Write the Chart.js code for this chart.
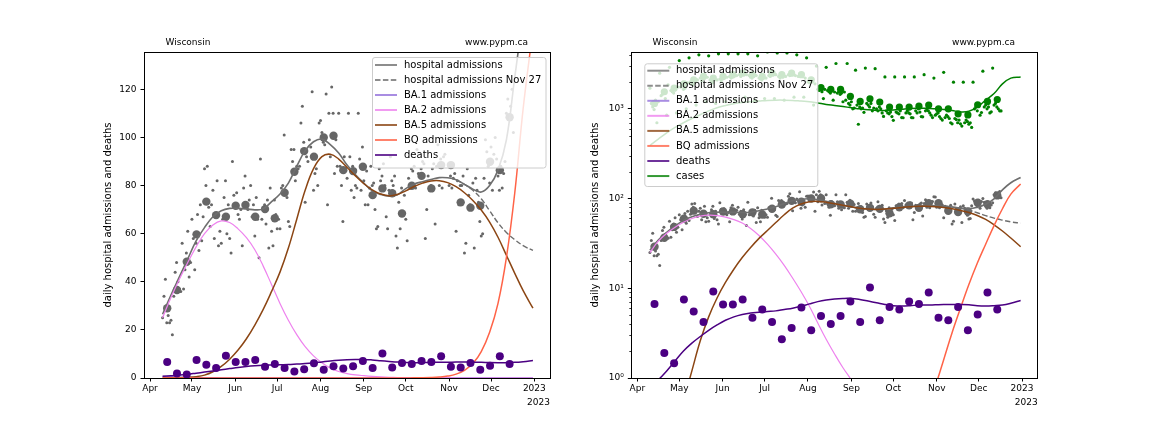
<!DOCTYPE html>
<html><head><meta charset="utf-8">
<script src="https://cdn.jsdelivr.net/npm/chart.js@4/dist/chart.umd.min.js"></script>
<style>
html,body{margin:0;padding:0;background:#fff;}
#wrap{position:relative;width:1152px;height:432px;background:#fff;}
canvas{position:absolute;top:0;}
#c1{left:0;} #c2{left:576px;}
</style></head><body>
<div id="wrap"><canvas id="c1" width="576" height="432" style="width:576px;height:432px"></canvas><canvas id="c2" width="576" height="432" style="width:576px;height:432px"></canvas></div>
<script>
// ---- data (x = days since 2022-04-01) ----
const monthLabels = ['Apr','May','Jun','Jul','Aug','Sep','Oct','Nov','Dec','2023'];
const monthDays = [0,30,61,91,122,153,183,214,244,275];
const logTickValues = [1,2,3,4,5,6,7,8,9,10,20,30,40,50,60,70,80,90,100,200,300,400,500,600,700,800,900,1000,2000,3000,4000];
const logTickLabels = {1:'10\u2070',10:'10\u00b9',100:'10\u00b2',1000:'10\u00b3'};

const curveDays = [9,15,21,27,33,39,45,51,57,63,69,75,81,87,93,99,105,111,117,123,129,135,141,147,153,159,165,171,177,183,189,195,201,207,213,219,225,231,237,243,249,255,261,267,274];
const hospCurve = [26.5,34.5,42,49.5,57,62.5,67,69.5,70.5,70.5,70.3,69.9,70.3,73.3,76.5,81,88,94.5,98.2,99.3,97,93.5,88.5,84.5,81,77.8,76.3,75.6,76.2,78.7,80.6,81.6,82.5,83.3,83.2,82.4,80.5,78.5,77.3,80,86.4,99,125,150,172];
const nov27Days = [219,225,231,237,243,249,255,261,267,274];
const hospNov27 = [82.4,80.5,78,74.5,69.5,64.5,60.5,57.5,55,53];
const ba1Curve = [0.6,0.45,0.35,0.25,0.18,0.12,0.08,0.05,0.03,0.02,0.013,0.009,0.006,0.004,0.003,0.002,0.0015,0.001,0.001,0.001,0.001,0.001,0.001,0.001,0.001,0.001,0.001,0.001,0.001,0.001,0.001,0.001,0.001,0.001,0.001,0.001,0.001,0.001,0.001,0.001,0.001,0.001,0.001,0.001,0.001];
const ba2Curve = [25,33.5,41,48,54.5,60,63.6,65.3,64.6,62,58.3,53.3,46.5,38.8,31,24,18,13,9.2,6.3,4.1,2.7,1.85,1.3,0.95,0.66,0.45,0.3,0.2,0.13,0.085,0.055,0.035,0.022,0.014,0.009,0.006,0.004,0.0025,0.0016,0.001,0.0007,0.0005,0.0004,0.0003];
const ba5Curve = [0.03,0.06,0.13,0.27,0.55,1.2,2.6,4.8,7.8,11.6,16.3,22,28.5,36,44,54,66,78,87,92,93,91,87.5,84,80.8,78.2,76.5,75.7,76.3,77.8,79.6,81,81.9,82,81.2,79.5,77,73.8,69.8,64.8,58.5,51,43.5,36.3,29];
const bqCurve = [0.0001,0.0001,0.0001,0.0001,0.0001,0.0001,0.0001,0.0001,0.0001,0.0001,0.0001,0.0002,0.0002,0.0003,0.0004,0.0005,0.0007,0.001,0.0014,0.002,0.0028,0.004,0.0055,0.0075,0.01,0.013,0.017,0.022,0.03,0.04,0.06,0.1,0.2,0.4,0.8,1.6,3.2,6,11,19,31,50,77,112,145];
const deathCurve = [0.75,0.95,1.2,1.55,2.0,2.45,2.9,3.4,3.9,4.4,4.8,5.1,5.3,5.4,5.5,5.6,5.8,6.0,6.3,6.7,7.1,7.4,7.6,7.7,7.7,7.5,7.2,6.9,6.6,6.4,6.35,6.4,6.5,6.5,6.55,6.6,6.6,6.6,6.55,6.4,6.35,6.4,6.5,6.8,7.3];
const caseCurve = [390,460,540,620,700,780,860,950,1030,1090,1140,1175,1200,1220,1240,1250,1250,1240,1220,1200,1160,1120,1090,1060,1030,1000,975,960,960,970,990,1010,1015,1012,1000,985,960,925,940,1045,1250,1480,1900,2200,2270];

const weekDays = [12.3,19.3,26.3,33.3,40.3,47.3,54.3,61.3,68.3,75.3,82.3,89.3,96.3,103.3,110.3,117.3,124.3,131.3,138.3,145.3,152.3,159.3,166.3,173.3,180.3,187.3,194.3,201.3,208.3,215.3,222.3,229.3,236.3,243.3,250.3,257.3];
const hospWeekly = [29,36.6,48.3,59.7,73.3,67.7,67,71.6,71.9,67,70.2,66.4,77,85.7,94.3,92,100,100.7,86.4,86,87.8,76,78.8,76.8,68.4,79.9,84,78.8,88.5,88.5,73,70.8,71.6,89.9,86.4,108.4];
const deathWeekly = [6.7,1.9,1.46,7.5,5.5,4.2,9.2,6.6,6.6,7.5,4.7,5.8,4.2,2.7,3.6,6.1,3.4,4.9,4.0,4.9,7.1,4.2,10.2,4.4,6.2,5.8,7.1,6.7,9.0,4.7,4.4,6.2,3.4,5.1,9.0,5.8];
const caseWeekly = [1150,1550,1700,1900,2100,2300,2200,2300,2400,2500,2400,2300,2500,2400,2500,2400,2100,1722,1648,1648,1374,1208,1296,1189,1045,1045,1045,1072,1100,1000,1000,879,856,1110,1208,1271];

const dailyDays = [9,10,11,12,13,14,15,16,17,18,19,20,21,22,23,24,25,26,27,28,29,30,31,32,33,34,35,36,37,38,39,40,41,42,43,44,45,46,47,48,49,50,51,52,53,54,55,56,57,58,59,60,61,62,63,64,65,66,67,68,69,70,71,72,73,74,75,76,77,78,79,80,81,82,83,84,85,86,87,88,89,90,91,92,93,94,95,96,97,98,99,100,101,102,103,104,105,106,107,108,109,110,111,112,113,114,115,116,117,118,119,120,121,122,123,124,125,126,127,128,129,130,131,132,133,134,135,136,137,138,139,140,141,142,143,144,145,146,147,148,149,150,151,152,153,154,155,156,157,158,159,160,161,162,163,164,165,166,167,168,169,170,171,172,173,174,175,176,177,178,179,180,181,182,183,184,185,186,187,188,189,190,191,192,193,194,195,196,197,198,199,200,201,202,203,204,205,206,207,208,209,210,211,212,213,214,215,216,217,218,219,220,221,222,223,224,225,226,227,228,229,230,231,232,233,234,235,236,237,238,239,240,241,242,243,244,245,246,247,248,249,250,251,252,253,254,255,256,257,258,259,260];
const hospDaily = [
  25,34,41,23,26,23,24, 18,34,44,48,40,37,36, 56,37,45,52,61,42,48, 66,58,45,56,68,53,72,
  57,67,87,80,88,71,63, 72,78,58,68,82,55,61, 56,66,75,82,60,72,58, 52,90,76,72,77,68,66,
  70,55,79,84,71,70,74, 80,67,72,59,75,66,50, 91,66,70,72,64,74,54, 79,61,55,74,68,62,66,
  62,79,80,101,77,75,65, 63,95,90,95,82,88,87, 88,106,113,98,73,92,90, 99,96,119,78,85,87,80,
  106,107,102,98,97,118,72, 110,92,121,110,85,99,88, 110,88,80,65,92,87,83, 110,92,78,88,75,80,79,
  110,91,78,96,82,72,86, 72,79,88,80,81,70,62, 63,87,82,84,89,80,67, 62,78,92,82,80,84,59,
  54,73,62,79,69,76,66, 57,83,79,87,86,88,79, 95,85,84,87,90,89,58, 70,84,78,80,87,89,64,
  88,97,80,91,79,92,93, 105,104,80,84,79,83,85, 61,82,72,80,80,84,52, 56,87,76,72,70,81,54,
  83,78,73,65,59,60,83, 99,94,88,81,96,78,93, 100,91,84,78,88,79,85, 90,110,116,108,113,120,102];
const caseDaily = [
  1700,1150,1050,980,1250,700,1200, 2500,1400,1450,1500,1300,850,1850, 2900,1600,1550,1500,1700,900,1750,
  3450,1750,1800,1650,1700,1000,1950, 3700,2000,1900,1850,2050,1100,2100, 4000,2200,2050,2150,2250,1200,2250,
  3900,2100,2000,1950,2200,1150,2100, 4100,2150,2050,2150,2200,1200,2250, 4100,2300,2200,2250,2350,1250,2350,
  4100,2400,2300,2450,2500,1350,2400, 4100,2350,2250,2200,2300,1250,2350, 3900,2200,2150,2100,2250,1300,2200,
  4300,2350,2300,2400,2450,1300,2400, 4200,2300,2200,2300,2250,1250,2300, 4200,2400,2350,2400,2450,1350,2350,
  4000,2300,2300,2350,2300,1350,2200, 3700,2000,1950,2000,2050,1100,1900, 3000,1650,1600,1700,1550,1300,1650,
  2900,1600,1550,1500,1600,1250,1540, 3200,1500,1550,1450,1500,1200,1540, 1250,3200,1150,1100,1200,1000,1020,
  2700,1100,673,1050,1000,1020,915, 2850,1150,1100,1050,1150,950,1022, 2800,1000,950,1050,1000,900,823,
  2270,950,900,880,920,820,745, 2270,920,900,880,950,800,795, 2270,900,950,900,880,800,795,
  2270,950,900,1000,920,820,814, 2400,950,1000,950,900,850,800, 2200,850,880,900,820,780,750,
  2550,800,850,820,780,700,680, 1980,780,760,700,750,680,643, 1980,700,750,720,673,700,620,
  1980,1000,1050,950,1100,850,910, 2630,1050,1100,1000,1050,900,926, 2850,1100,1150,1050,1000,950,947];

// ---- helpers ----
const pts = (xs, ys) => xs.map((x, i) => ({x: x, y: ys[i]}));
const C = {hosp:'#6e6e6e', dots:'#666666', ba1:'#9370db', ba2:'#ee82ee', ba5:'#8b4513', bq:'#ff6347', death:'#4b0082', cases:'#008000'};
function lineDs(label, xs, ys, color, order, extra) {
  return Object.assign({label, data: pts(xs, ys), showLine: true, borderColor: color, backgroundColor: color,
    borderWidth: 1.5, pointRadius: 0, tension: 0.4, order: order}, extra || {});
}
function dotDs(label, xs, ys, color, r, order) {
  return {label, data: pts(xs, ys), showLine: false, pointRadius: r, pointHoverRadius: r,
    backgroundColor: color, borderColor: color, borderWidth: 0, order: order};
}

Chart.defaults.font.family = '"DejaVu Sans", sans-serif';
Chart.defaults.font.size = 9;
Chart.defaults.color = '#000';

function overlay(opts) {
  return {
    id: 'overlay',
    afterDatasetsDraw(chart) {
      const ctx = chart.ctx, a = chart.chartArea;
      ctx.save();
      if (opts.minor) {
        const ys = chart.scales.y;
        ctx.strokeStyle = '#000'; ctx.lineWidth = 0.8;
        logTickValues.forEach(v => {
          if (logTickLabels[v]) return;
          const p = Math.round(ys.getPixelForValue(v)) + 0.5;
          ctx.beginPath(); ctx.moveTo(a.left, p); ctx.lineTo(a.left - 2, p); ctx.stroke();
        });
      }
      ctx.strokeStyle = '#000'; ctx.lineWidth = 1;
      ctx.strokeRect(Math.floor(a.left) + 0.5, Math.floor(a.top) + 0.5, Math.round(a.right - a.left), Math.round(a.bottom - a.top));
      ctx.fillStyle = '#000';
      ctx.font = '9px "DejaVu Sans"';
      ctx.textBaseline = 'alphabetic';
      ctx.textAlign = 'left'; ctx.fillText('Wisconsin', opts.titleX, 45);
      ctx.textAlign = 'right'; ctx.fillText('www.pypm.ca', opts.siteX, 45);
      const L = opts.legend;
      ctx.beginPath();
      if (ctx.roundRect) ctx.roundRect(L.x0 + 0.5, L.y0 + 0.5, L.x1 - L.x0, L.y1 - L.y0, 2.5);
      else ctx.rect(L.x0 + 0.5, L.y0 + 0.5, L.x1 - L.x0, L.y1 - L.y0);
      ctx.fillStyle = 'rgba(255,255,255,0.8)'; ctx.fill();
      ctx.strokeStyle = '#cccccc'; ctx.lineWidth = 1; ctx.stroke();
      ctx.font = '10px "DejaVu Sans"';
      ctx.textAlign = 'left'; ctx.textBaseline = 'middle';
      L.items.forEach((it, i) => {
        const y = L.row0 + i * L.step;
        ctx.save();
        ctx.globalAlpha = 0.8;
        ctx.strokeStyle = it.color; ctx.lineWidth = 2;
        if (it.dash) ctx.setLineDash([5.5, 2.4]);
        ctx.beginPath(); ctx.moveTo(L.hx0, y); ctx.lineTo(L.hx1, y); ctx.stroke();
        ctx.restore();
        ctx.fillStyle = '#000';
        ctx.fillText(it.label, L.tx, y);
      });
      ctx.restore();
    }
  };
}

function xScale() {
  return {
    type: 'linear', min: -4.3, max: 286.2,
    afterBuildTicks: s => { s.ticks = monthDays.map(v => ({value: v})); },
    afterFit: s => { s.height = 54; },
    ticks: {autoSkip: false, maxRotation: 0, padding: 1.6, callback: v => monthLabels[monthDays.indexOf(v)] || ''},
    grid: {display: true, drawOnChartArea: false, drawTicks: true, tickLength: 3.5, tickColor: '#000', tickWidth: 1},
    border: {display: false},
    title: {display: true, text: '2023', align: 'end', font: {size: 9}, padding: {top: 0, bottom: 24}}
  };
}
function yTitle() {
  return {display: true, text: 'daily hospital admissions and deaths', font: {size: 10}, padding: {top: 0, bottom: 0}};
}

const legendItemsBase = [
  {label: 'hospital admissions', color: '#707070'},
  {label: 'hospital admissions Nov 27', color: '#707070', dash: true},
  {label: 'BA.1 admissions', color: C.ba1},
  {label: 'BA.2 admissions', color: C.ba2},
  {label: 'BA.5 admissions', color: C.ba5},
  {label: 'BQ admissions', color: C.bq},
  {label: 'deaths', color: '#4b0082'}
];

function commonDatasets() {
  return [
    dotDs('hosp daily', dailyDays, hospDaily, C.dots, 1.5, 20),
    dotDs('hosp weekly', weekDays, hospWeekly, C.dots, 4.2, 19),
    lineDs('hospital admissions', curveDays, hospCurve, C.hosp, 18, {borderWidth: 1.6}),
    lineDs('hospital admissions Nov 27', nov27Days, hospNov27, C.hosp, 17, {borderDash: [5.5, 2.4], borderWidth: 1.4}),
    lineDs('BA.1 admissions', curveDays, ba1Curve, C.ba1, 16),
    lineDs('BA.2 admissions', curveDays, ba2Curve, C.ba2, 15, {borderWidth: 1.2}),
    lineDs('BA.5 admissions', curveDays, ba5Curve, C.ba5, 14),
    lineDs('BQ admissions', curveDays, bqCurve, C.bq, 13),
    dotDs('deaths weekly', weekDays, deathWeekly, C.death, 4, 12),
    lineDs('deaths', curveDays, deathCurve, C.death, 11)
  ];
}

new Chart(document.getElementById('c1'), {
  type: 'scatter',
  data: {datasets: commonDatasets()},
  options: {
    responsive: false, animation: false, events: [],
    layout: {padding: {left: 102, right: 26, top: 52, bottom: 0}},
    plugins: {legend: {display: false}, tooltip: {enabled: false}},
    scales: {
      x: xScale(),
      y: {
        type: 'linear', min: 0, max: 135.5,
        afterBuildTicks: s => { s.ticks = [0,20,40,60,80,100,120].map(v => ({value: v})); },
        afterFit: s => { s.width = 42; },
        ticks: {autoSkip: false, padding: 4},
        grid: {display: true, drawOnChartArea: false, drawTicks: true, tickLength: 3.5, tickColor: '#000', tickWidth: 1},
        border: {display: false},
        title: yTitle()
      }
    }
  },
  plugins: [overlay({titleX: 165.5, siteX: 528, minor: false,
    legend: {x0: 372, y0: 57, x1: 545.5, y1: 167.5, row0: 65, step: 15, hx0: 375, hx1: 397, tx: 404, items: legendItemsBase}})]
});

const ds2 = commonDatasets();
ds2.push(dotDs('cases daily', dailyDays, caseDaily, C.cases, 1.6, 10));
ds2.push(dotDs('cases weekly', weekDays, caseWeekly, C.cases, 3.6, 9));
ds2.push(lineDs('cases', curveDays, caseCurve, C.cases, 8));

new Chart(document.getElementById('c2'), {
  type: 'scatter',
  data: {datasets: ds2},
  options: {
    responsive: false, animation: false, events: [],
    layout: {padding: {left: 13, right: 114.3, top: 52, bottom: 0}},
    plugins: {legend: {display: false}, tooltip: {enabled: false}},
    scales: {
      x: xScale(),
      y: {
        type: 'logarithmic', min: 1, max: 4300,
        afterBuildTicks: s => { s.ticks = logTickValues.map(v => ({value: v})); },
        afterFit: s => { s.width = 42.3; },
        ticks: {autoSkip: false, padding: 4, callback: v => logTickLabels[v] || ''},
        grid: {display: true, drawOnChartArea: false, drawTicks: true, tickLength: 3.5, tickWidth: 1,
          tickColor: c => (c.tick && logTickLabels[c.tick.value]) ? '#000' : 'rgba(0,0,0,0)'},
        border: {display: false},
        title: yTitle()
      }
    }
  },
  plugins: [overlay({titleX: 76.5, siteX: 439, minor: true,
    legend: {x0: 68.3, y0: 63.3, x1: 241.3, y1: 186, row0: 70.7, step: 15.05, hx0: 71.3, hx1: 93.3, tx: 100,
      items: legendItemsBase.concat([{label: 'cases', color: C.cases}])}})]
});
</script>
</body></html>
